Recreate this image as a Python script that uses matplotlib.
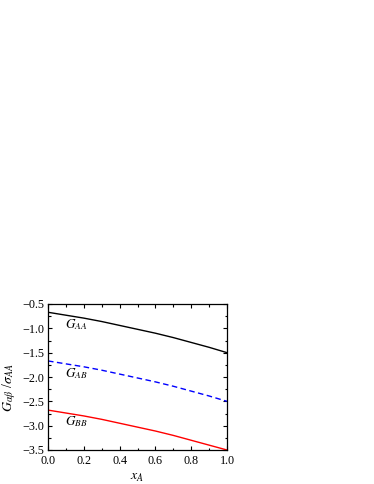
import matplotlib
matplotlib.use("Agg")
import matplotlib.pyplot as plt
from matplotlib.ticker import MultipleLocator

x_A = [0.0, 0.1, 0.2, 0.3, 0.4, 0.5, 0.6, 0.7, 0.8, 0.9, 1.0]
G_AA = [-0.67, -0.73, -0.79, -0.86, -0.94, -1.02, -1.10, -1.19, -1.29, -1.39, -1.50]
G_AB = [-1.67, -1.73, -1.79, -1.86, -1.94, -2.02, -2.10, -2.19, -2.29, -2.39, -2.50]
G_BB = [-2.68, -2.74, -2.80, -2.87, -2.95, -3.03, -3.11, -3.20, -3.30, -3.40, -3.50]

plt.rcParams['font.family'] = ['Liberation Serif', 'DejaVu Serif']
plt.rcParams['mathtext.fontset'] = 'stix'

fig = plt.figure(figsize=(3.74, 4.84), dpi=100)
ax = fig.add_axes([48/374, 1 - 450/484, (227-48)/374, (450-304)/484])

ax.plot(x_A, G_AA, color='black', lw=1.0)
ax.plot(x_A, G_AB, color='blue', lw=1.0, ls=(0, (4, 2.5)))
ax.plot(x_A, G_BB, color='red', lw=1.0)

ax.text(0.095, -0.99, r'$G_{AA}$', fontsize=9.5, va='baseline', ha='left')
ax.text(0.095, -2.00, r'$G_{AB}$', fontsize=9.5, va='baseline', ha='left')
ax.text(0.095, -2.99, r'$G_{BB}$', fontsize=9.5, va='baseline', ha='left')

ax.set_xlim(0, 1.0)
ax.set_ylim(-3.5, -0.5)
ax.xaxis.set_major_locator(MultipleLocator(0.2))
ax.xaxis.set_minor_locator(MultipleLocator(0.1))
ax.yaxis.set_major_locator(MultipleLocator(0.5))
ax.yaxis.set_minor_locator(MultipleLocator(0.25))
ax.tick_params(which='both', direction='in', top=True, right=True, labelsize=8.7)
ax.tick_params(axis='x', which='both', pad=3.5)
ax.tick_params(axis='y', which='both', pad=2.5)
ax.tick_params(which='major', length=3, width=0.8)
ax.tick_params(which='minor', length=1.8, width=0.8)
for s in ax.spines.values():
    s.set_linewidth(0.9)

ax.set_xlabel(r'$x_A$', fontsize=10)
ax.xaxis.set_label_coords(0.5, -(477 - 450) / 146, transform=ax.transAxes)
ax.xaxis.label.set_va('center')
ax.set_ylabel(r'$G_{\alpha\beta}$ /$\sigma_{AA}$', fontsize=10)
ax.yaxis.set_label_coords(-0.168, 0.425)

fig.savefig('out.png', dpi=100)
